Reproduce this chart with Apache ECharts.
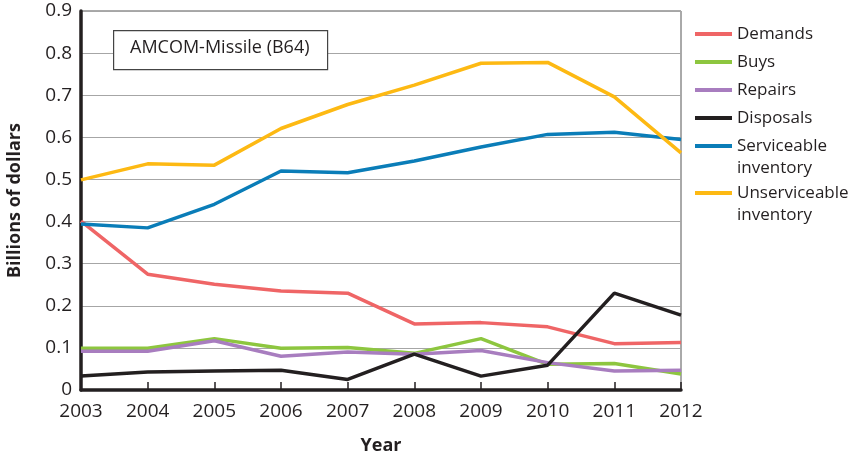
<!DOCTYPE html>
<html>
<head>
<meta charset="utf-8">
<script src="https://cdn.jsdelivr.net/npm/echarts@6/dist/echarts.min.js"></script>
<style>
  html, body { margin: 0; padding: 0; background: #fff; }
  #chart { width: 865px; height: 457px; }
</style>
</head>
<body>
<div id="chart"></div>
<script>
// data (billions of dollars)
var years = ['2003', '2004', '2005', '2006', '2007', '2008', '2009', '2010', '2011', '2012']
var demands = [0.401, 0.275, 0.251, 0.235, 0.230, 0.157, 0.160, 0.150, 0.110, 0.113]
var buys = [0.099, 0.099, 0.122, 0.099, 0.101, 0.087, 0.122, 0.061, 0.063, 0.038]
var repairs = [0.092, 0.092, 0.117, 0.080, 0.090, 0.085, 0.094, 0.065, 0.045, 0.047]
var disposals = [0.033, 0.043, 0.045, 0.047, 0.025, 0.085, 0.033, 0.059, 0.230, 0.178]
var serviceable = [0.394, 0.385, 0.441, 0.520, 0.516, 0.544, 0.577, 0.607, 0.612, 0.595]
var unserviceable = [0.499, 0.537, 0.534, 0.621, 0.678, 0.724, 0.776, 0.778, 0.696, 0.563]

var FONT = 'Open Sans'
var INK = '#231f20'

var chart = echarts.init(document.getElementById('chart'))

function lineSeries(name, color, data) {
  return {
    name: name,
    type: 'line',
    data: data,
    symbol: 'none',
    color: color,
    lineStyle: { color: color, width: 3.5 },
    animation: false
  }
}

var legendBase = {
  orient: 'vertical',
  left: 695,
  padding: 0,
  icon: 'rect',
  itemWidth: 37,
  itemHeight: 4,
  itemGap: 6,
  selectedMode: false,
  textStyle: { fontFamily: FONT, fontSize: 17, color: INK, lineHeight: 22 }
}

chart.setOption({
  backgroundColor: '#fff',
  grid: {
    left: 81,
    right: 184,
    top: 11,
    bottom: 67,
    containLabel: false,
    outerBoundsMode: 'none',
    show: true,
    borderColor: '#555',
    borderWidth: 1
  },
  legend: [
    Object.assign({}, legendBase, {
      top: 23,
      data: ['Demands', 'Buys', 'Repairs', 'Disposals']
    }),
    Object.assign({}, legendBase, {
      top: 113,
      data: ['Serviceable inventory'],
      formatter: function () { return '\nServiceable\ninventory' }
    }),
    Object.assign({}, legendBase, {
      top: 160,
      data: ['Unserviceable inventory'],
      formatter: function () { return '\nUnserviceable\ninventory' }
    })
  ],
  xAxis: {
    type: 'category',
    data: years,
    boundaryGap: false,
    name: 'Year',
    nameLocation: 'middle',
    nameGap: 47,
    nameTextStyle: { fontFamily: FONT, fontSize: 18, fontWeight: 'bold', color: INK },
    axisLine: { lineStyle: { color: INK, width: 3.5 } },
    axisTick: { inside: true, length: 8, lineStyle: { color: INK, width: 1.5 } },
    axisLabel: { fontFamily: FONT, fontSize: 19, color: INK, margin: 12 },
    splitLine: { show: false }
  },
  yAxis: {
    type: 'value',
    min: 0,
    max: 0.9,
    interval: 0.1,
    name: 'Billions of dollars',
    nameLocation: 'middle',
    nameGap: 57,
    nameTextStyle: { fontFamily: FONT, fontSize: 18, fontWeight: 'bold', color: INK },
    axisLine: { show: true, lineStyle: { color: INK, width: 3.5 } },
    axisTick: { show: false },
    axisLabel: {
      fontFamily: FONT, fontSize: 19, color: INK, margin: 9,
      formatter: function (v) { return v === 0 ? '0' : v.toFixed(1) }
    },
    splitLine: { lineStyle: { color: '#a6a6a6', width: 1.2 } }
  },
  graphic: [
    {
      type: 'rect',
      left: 113,
      top: 30,
      z: 100,
      shape: { width: 214, height: 39 },
      style: { fill: '#fff', stroke: '#444', lineWidth: 1.2 }
    },
    {
      type: 'text',
      z: 101,
      left: 130,
      top: 39,
      style: {
        text: 'AMCOM-Missile (B64)',
        fontFamily: FONT,
        fontSize: 18,
        fill: INK
      }
    }
  ],
  series: [
    lineSeries('Demands', '#ef6566', demands),
    lineSeries('Buys', '#8dc63f', buys),
    lineSeries('Repairs', '#a87dbf', repairs),
    lineSeries('Disposals', INK, disposals),
    lineSeries('Serviceable inventory', '#0a7db8', serviceable),
    lineSeries('Unserviceable inventory', '#fdb913', unserviceable)
  ]
})
</script>
</body>
</html>
